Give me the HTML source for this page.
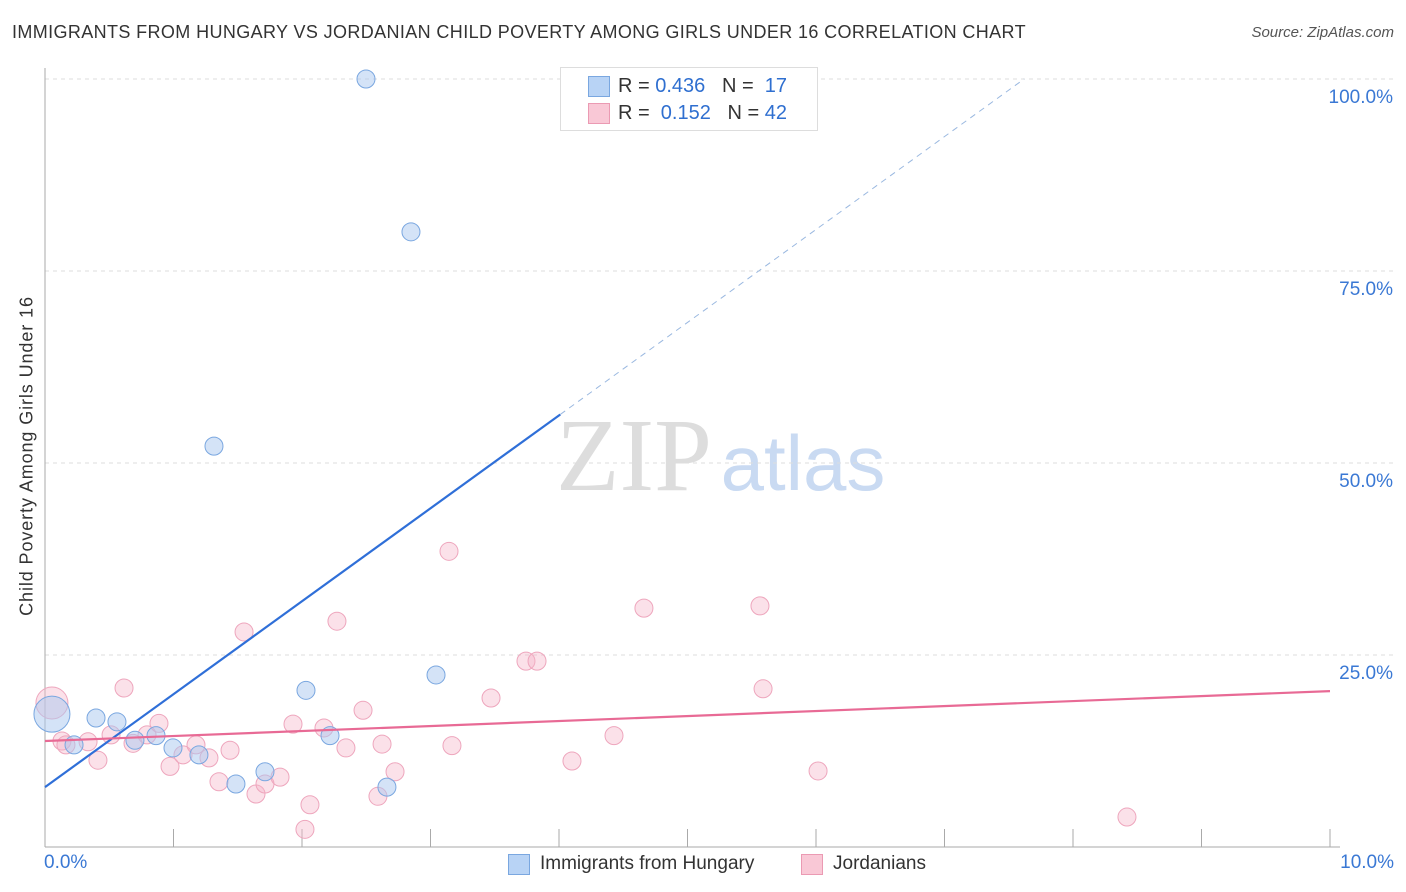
<!DOCTYPE html>
<html><head><meta charset="utf-8"><style>
body{margin:0;background:#fff;font-family:"Liberation Sans",sans-serif;}
#wrap{position:relative;width:1406px;height:892px;overflow:hidden;}
.t{position:absolute;white-space:nowrap;}
</style></head><body>
<div id="wrap">
<div class="t" style="left:12px;top:22px;font-size:18px;color:#333;letter-spacing:0.38px;">IMMIGRANTS FROM HUNGARY VS JORDANIAN CHILD POVERTY AMONG GIRLS UNDER 16 CORRELATION CHART</div>
<div class="t" style="right:12px;top:24px;font-size:15px;color:#555;font-style:italic;">Source: ZipAtlas.com</div>
<svg id="svg" width="1406" height="892" style="position:absolute;left:0;top:0">
<text x="634" y="490" font-family="Liberation Serif,serif" font-size="104" fill="#ddd" text-anchor="middle">ZIP</text>
<text x="803" y="490" font-family="Liberation Sans,sans-serif" font-size="78" fill="#c9daf2" text-anchor="middle">atlas</text>
</svg>
<div style="position:absolute;left:560px;top:67px;width:256px;height:62px;border:1px solid #ddd;background:#fff;">
<div style="position:absolute;left:27px;top:8px;width:20px;height:19px;background:#b8d3f5;border:1px solid #7aa7e0;"></div>
<div class="t" style="left:57px;top:7px;font-size:20px;color:#333;">R = <span style="color:#2f6fd0">0.436</span>&nbsp;&nbsp;&nbsp;N = &nbsp;<span style="color:#2f6fd0">17</span></div>
<div style="position:absolute;left:27px;top:35px;width:20px;height:19px;background:#f9c8d6;border:1px solid #eb9ab3;"></div>
<div class="t" style="left:57px;top:34px;font-size:20px;color:#333;">R = &nbsp;<span style="color:#2f6fd0">0.152</span>&nbsp;&nbsp;&nbsp;N = <span style="color:#2f6fd0">42</span></div>
</div>
<div class="t" style="left:27px;top:456px;font-size:18px;letter-spacing:0.9px;color:#333;transform:translate(-50%,-50%) rotate(-90deg);">Child Poverty Among Girls Under 16</div>
<div class="t" style="left:44px;top:852px;font-size:19px;color:#3a78d4;">0.0%</div>
<div class="t" style="right:12px;top:852px;font-size:19px;color:#3a78d4;">10.0%</div>
<div style="position:absolute;left:508px;top:854px;width:20px;height:19px;background:#b8d3f5;border:1px solid #7aa7e0;"></div>
<div class="t" style="left:540px;top:853px;font-size:19px;color:#333;">Immigrants from Hungary</div>
<div style="position:absolute;left:801px;top:854px;width:20px;height:19px;background:#f9c8d6;border:1px solid #eb9ab3;"></div>
<div class="t" style="left:833px;top:853px;font-size:19px;color:#333;">Jordanians</div>
</div>
<script>
const yTicks=[25,50,75,100];
const yTickLabels=["25.0%","50.0%","75.0%","100.0%"];
const xTicks=[0,1,2,3,4,5,6,7,8,9,10];
const hungaryX=[0.054,0.226,0.397,0.560,0.700,0.864,0.996,1.198,1.315,1.486,1.712,2.031,2.218,2.498,2.661,2.848,3.043];
const hungaryY=[17.3,13.3,16.8,16.3,13.9,14.5,12.9,12.0,52.2,8.2,9.8,20.4,14.5,100,7.8,80.1,22.4];
const hungaryR=[18,9,9,9,9,9,9,9,9,9,9,9,9,9,9,9,9];
const jordanX=[0.054,0.132,0.163,0.335,0.412,0.514,0.615,0.685,0.794,0.887,0.973,1.074,1.175,1.276,1.354,1.440,1.549,1.642,1.712,1.829,1.930,2.062,2.023,2.171,2.272,2.342,2.475,2.591,2.623,2.724,3.144,3.167,3.471,3.743,3.829,4.101,4.428,4.661,5.564,5.588,6.016,8.420];
const jordanY=[18.75,13.8,13.3,13.7,11.3,14.6,20.7,13.5,14.6,16.1,10.5,12.0,13.3,11.6,8.5,12.6,28.0,6.9,8.2,9.1,16.0,5.5,2.3,15.5,29.4,12.9,17.8,6.6,13.4,9.8,38.5,13.2,19.4,24.2,24.2,11.2,14.5,31.1,31.4,20.6,9.9,3.9];
const hungaryTrend=[7.8,12.1]; // intercept, slope
const jordanTrend=[13.8,0.65];
const X=v=>45+v*128.5, Y=v=>847-v*7.68;
const svg=document.getElementById('svg'),NS='http://www.w3.org/2000/svg';
const g=document.createElementNS(NS,'g');g.setAttribute('class','marks');svg.appendChild(g);
function add(tag,at,parent){const e=document.createElementNS(NS,tag);for(const k in at)e.setAttribute(k,at[k]);(parent||g).appendChild(e);return e;}
yTicks.forEach((v,i)=>{
 const l=add('line',{x1:45,x2:1395,y1:Y(v),y2:Y(v),stroke:'#ddd','stroke-dasharray':'4,4'});
 
 
 const t=add('text',{x:1393,y:Y(v)+24,'text-anchor':'end','font-size':19,fill:'#3a78d4'});t.textContent=yTickLabels[i];
 
 
});
const ax=add('line',{x1:45,x2:45,y1:68,y2:847,stroke:'#aaa'});


const bx=add('line',{x1:45,x2:1340,y1:847,y2:847,stroke:'#aaa'});


xTicks.forEach(v=>{const l=add('line',{x1:X(v),x2:X(v),y1:829,y2:847,stroke:'#aaa'});
 
 });
jordanX.forEach((x,i)=>{const c=add('circle',{cx:X(x),cy:Y(jordanY[i]),r:i==0?16:9,fill:'rgba(246,180,200,0.4)',stroke:'#eea6bd','stroke-width':1});
 
 });
hungaryX.forEach((x,i)=>{const c=add('circle',{cx:X(x),cy:Y(hungaryY[i]),r:hungaryR[i],fill:'rgba(170,200,240,0.5)',stroke:'#7aa7e0','stroke-width':1});
 
 });
const hy=x=>hungaryTrend[0]+hungaryTrend[1]*x;
const hs=add('line',{x1:X(0),y1:Y(hy(0)),x2:X(4.01),y2:Y(hy(4.01)),stroke:'#2f6fd8','stroke-width':2.2});


const xEnd=(100-hungaryTrend[0])/hungaryTrend[1];
const hd=add('line',{x1:X(4.01),y1:Y(hy(4.01)),x2:X(xEnd),y2:Y(100),stroke:'#9ab8e0','stroke-width':1,'stroke-dasharray':'6,5'});


const jy=x=>jordanTrend[0]+jordanTrend[1]*x;
const jl=add('line',{x1:X(0),y1:Y(jy(0)),x2:X(10),y2:Y(jy(10)),stroke:'#e86a95','stroke-width':2.2});


</script>
</body></html>
